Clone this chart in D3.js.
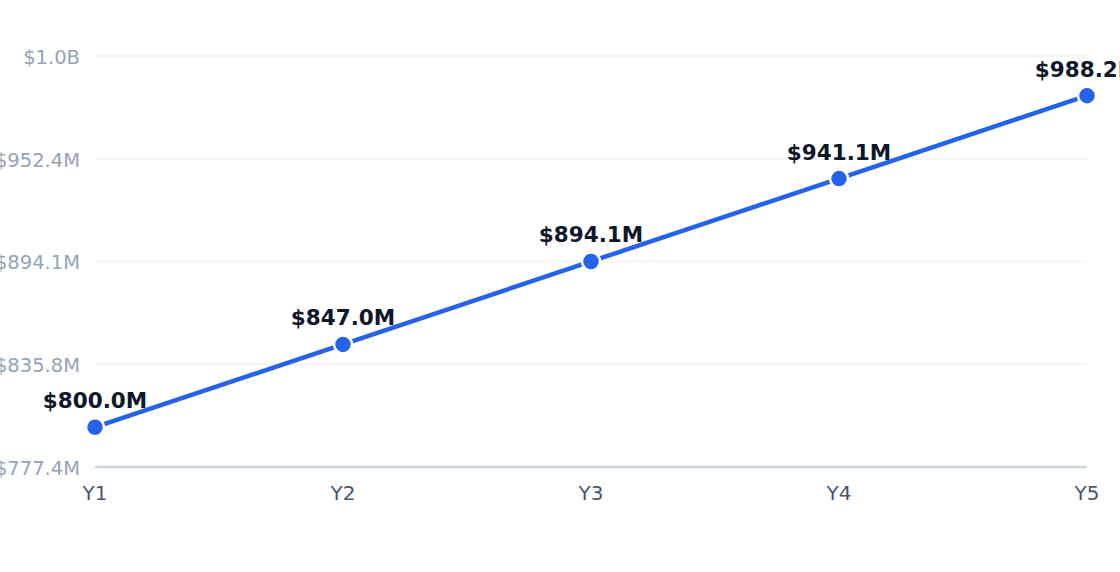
<!DOCTYPE html>
<html><head><meta charset="utf-8">
<script src="https://cdn.jsdelivr.net/npm/d3@7"></script>
<style>body{margin:0;background:#fff;overflow:hidden}svg{display:block;font-family:"DejaVu Sans",sans-serif}</style>
</head><body><svg id="c" width="1120" height="572"></svg>
<script>
const categories = ["Y1","Y2","Y3","Y4","Y5"];
const values = [800.0, 847.0, 894.1, 941.1, 988.2];
const valueLabels = ["$800.0M","$847.0M","$894.1M","$941.1M","$988.2M"];
const yTicks = [777.4, 835.8, 894.1, 952.4, 1010.7];
const yTickLabels = ["$777.4M","$835.8M","$894.1M","$952.4M","$1.0B"];

const svg = d3.select("#c");
const x = d3.scalePoint().domain(categories).range([95,1087]);
const y = d3.scaleLinear().domain([777.4,1010.7]).range([467,56]);

svg.append("g").selectAll("line").data(yTicks.slice(1)).join("line")
  .attr("x1",95).attr("x2",1087).attr("y1",d=>y(d)).attr("y2",d=>y(d))
  .attr("stroke","#f1f5f9").attr("stroke-width",2);
svg.append("line").attr("x1",95).attr("x2",1087).attr("y1",467).attr("y2",467)
  .attr("stroke","#cbd5e1").attr("stroke-width",2.5);

svg.append("g").selectAll("text").data(yTicks).join("text")
  .attr("x",80).attr("y",d=>y(d)+1).attr("dy","0.35em").attr("text-anchor","end")
  .attr("fill","#94a3b8").attr("font-size",19.5).text((d,i)=>yTickLabels[i]);
svg.append("g").selectAll("text").data(categories).join("text")
  .attr("x",d=>x(d)).attr("y",500).attr("text-anchor","middle")
  .attr("fill","#475569").attr("font-size",20).text(d=>d);

svg.append("path").datum(values)
  .attr("d",d3.line().x((d,i)=>x(categories[i])).y(d=>y(d)))
  .attr("fill","none").attr("stroke","#2563eb").attr("stroke-width",4.5);
svg.append("g").selectAll("circle").data(values).join("circle")
  .attr("cx",(d,i)=>x(categories[i])).attr("cy",d=>y(d)).attr("r",9)
  .attr("fill","#2563eb").attr("stroke","#fff").attr("stroke-width",2.5);
svg.append("g").selectAll("text").data(values).join("text")
  .attr("x",(d,i)=>x(categories[i])).attr("y",d=>y(d)-19).attr("text-anchor","middle")
  .attr("fill","#0f172a").attr("font-size",21.5).attr("font-weight","bold")
  .text((d,i)=>valueLabels[i]);
</script></body></html>
